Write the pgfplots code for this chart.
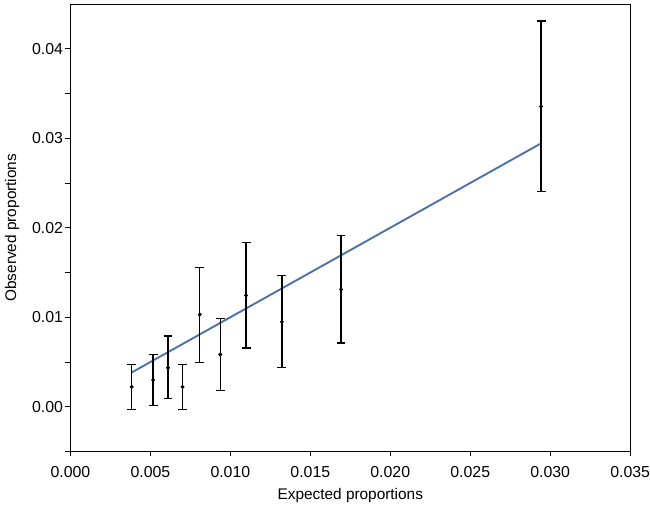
\documentclass[border=0pt]{standalone}
\usepackage{fontspec}
\setmainfont{Liberation Sans}
\usepackage{pgfplots}
\pgfplotsset{compat=1.18}
\definecolor{lineblue}{RGB}{76,112,172}
\begin{document}
\begin{tikzpicture}
\begin{axis}[
  scale only axis,
  width=564bp, height=451bp,
  xmin=0, xmax=0.035, ymin=-0.005, ymax=0.045,
  xtick={0,0.005,...,0.0351},
  ytick={0,0.01,0.02,0.03,0.04},
  minor ytick={-0.005,0.005,0.015,0.025,0.035},
  scaled ticks=false,
  tick align=outside,
  xtick pos=bottom, ytick pos=left,
  major tick length=5bp, minor tick length=5bp,
  tick style={black, line width=0.8bp},
  axis line style={line width=0.9bp},
  x tick label style={yshift=-6bp, /pgf/number format/.cd, fixed, fixed zerofill, precision=3, assume math mode=true},
  y tick label style={xshift=1bp, /pgf/number format/.cd, fixed, fixed zerofill, precision=2, assume math mode=true},
  tick label style={font=\fontsize{16bp}{19bp}\selectfont},
  label style={font=\fontsize{15.5bp}{18bp}\selectfont},
  xlabel={Expected proportions},
  ylabel={Observed proportions},
  xlabel style={yshift=-4bp},
  ylabel style={yshift=6bp},
]
\addplot[lineblue, line width=1.9bp] coordinates {(0.00383,0.00383) (0.02943,0.02943)};
\addplot[black, only marks, mark=*, mark size=1.8bp,
  error bars/.cd, y dir=both, y explicit,
  error bar style={line width=1.3bp, black},
  error mark options={rotate=90, mark size=4.5bp, line width=1.3bp, black}]
  table[x=x, y=y, y error plus=ep, y error minus=em] {
x y ep em
0.00383 0.00222 0.00247 0.00252
0.00517 0.00299 0.00281 0.00288
0.00610 0.00436 0.00354 0.00347
0.00701 0.00222 0.00247 0.00252
0.00809 0.01030 0.00525 0.00539
0.00937 0.00584 0.00406 0.00403
0.01098 0.01244 0.00595 0.00587
0.01322 0.00950 0.00513 0.00510
0.01692 0.01311 0.00606 0.00599
0.02943 0.03354 0.00956 0.00950
};
\end{axis}
\pgfresetboundingbox
\path (-71bp,-54bp) rectangle (584bp,455bp);
\end{tikzpicture}
\end{document}
